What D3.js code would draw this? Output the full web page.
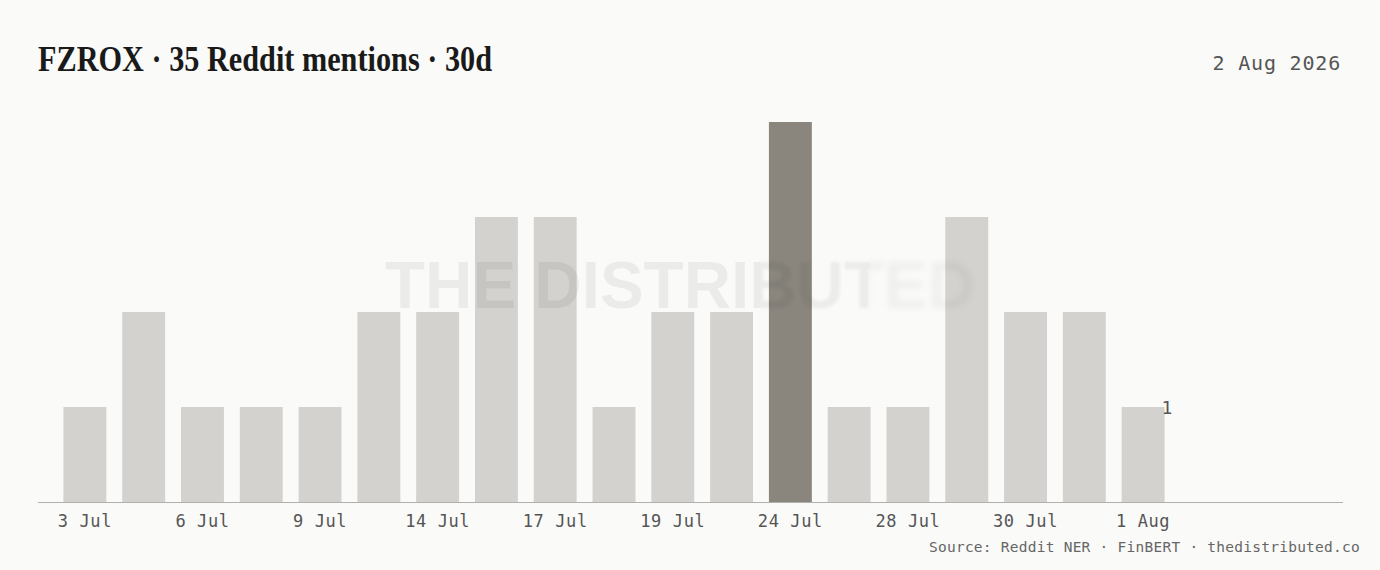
<!DOCTYPE html>
<html><head><meta charset="utf-8">
<script src="https://cdn.jsdelivr.net/npm/d3@7"></script>
<style>html,body{margin:0;padding:0;background:#fafaf8;}svg{display:block;}</style>
</head><body>
<svg id="c" width="1380" height="570"></svg>
<script>
const dates = ["3 Jul","5 Jul","6 Jul","8 Jul","9 Jul","12 Jul","14 Jul","16 Jul","17 Jul","18 Jul","19 Jul","22 Jul","24 Jul","26 Jul","28 Jul","29 Jul","30 Jul","31 Jul","1 Aug"];
const mentions = [1,2,1,1,1,2,2,3,3,1,2,2,4,1,1,3,2,2,1];
const tickLabels = ["3 Jul","6 Jul","9 Jul","14 Jul","17 Jul","19 Jul","24 Jul","28 Jul","30 Jul","1 Aug"];
const highlight = "24 Jul";
const titleText = "FZROX · 35 Reddit mentions · 30d";
const dateText = "2 Aug 2026";
const sourceText = "Source: Reddit NER · FinBERT · thedistributed.co";

const svg = d3.select("#c");
svg.append("rect").attr("width",1380).attr("height",570).attr("fill","#fafaf8");

const mono = "'DejaVu Sans Mono','Liberation Mono',monospace";

const x = d3.scaleBand().domain(dates).range([55.5,1172.5]).paddingInner(0.27).paddingOuter(0.135);
const y = d3.scaleLinear().domain([0,4]).range([502,122]);

// bars
svg.append("g").selectAll("rect").data(dates).join("rect")
  .attr("x", d=>x(d)).attr("width", x.bandwidth())
  .attr("y", (d,i)=>y(mentions[i])).attr("height",(d,i)=>y(0)-y(mentions[i]))
  .attr("fill", d=> d===highlight ? "#8a867e" : "#d3d2ce");

// watermark
const defs = svg.append("defs");
defs.append("filter").attr("id","blur1").attr("x","-10%").attr("y","-30%").attr("width","120%").attr("height","160%")
  .append("feGaussianBlur").attr("stdDeviation",1.6);
defs.append("filter").attr("id","blur2").attr("x","-10%").attr("y","-30%").attr("width","120%").attr("height","160%")
  .append("feGaussianBlur").attr("stdDeviation",3);
defs.append("clipPath").attr("id","clipL").append("rect").attr("x",0).attr("y",200).attr("width",760).attr("height",160);
defs.append("clipPath").attr("id","clipM").append("rect").attr("x",760).attr("y",200).attr("width",110).attr("height",160);
defs.append("clipPath").attr("id","clipR").append("rect").attr("x",870).attr("y",200).attr("width",300).attr("height",160);
const wm = (g,op)=> g.append("text").attr("x",680).attr("y",308).attr("text-anchor","middle")
  .attr("font-family","'Liberation Sans',Arial,sans-serif").attr("font-weight","bold").attr("font-size",67)
  .attr("textLength",590).attr("lengthAdjust","spacingAndGlyphs")
  .attr("fill","#000").attr("fill-opacity",op).text("THE DISTRIBUTED");
wm(svg.append("g").attr("clip-path","url(#clipL)"),0.06);
wm(svg.append("g").attr("clip-path","url(#clipM)").append("g").attr("filter","url(#blur1)"),0.055);
wm(svg.append("g").attr("clip-path","url(#clipR)").append("g").attr("filter","url(#blur2)"),0.045);

// axis
const ax = svg.append("g").attr("transform","translate(0,502)")
  .call(d3.axisBottom(x).tickValues(tickLabels).tickSize(0).tickPadding(13));
ax.select(".domain").remove();
ax.selectAll("text").attr("font-family",mono).attr("font-size",17).attr("letter-spacing",0.6).attr("fill","#555");
svg.append("line").attr("x1",38).attr("x2",1343).attr("y1",502.5).attr("y2",502.5).attr("stroke","#b0afab").attr("stroke-width",1.2);

// last value label
const last = dates[dates.length-1];
svg.append("text").attr("x", x(last)+x.bandwidth()-3).attr("y", y(mentions[mentions.length-1])+7)
  .attr("font-family",mono).attr("font-size",18).attr("fill","#555").text(mentions[mentions.length-1]);

// title
svg.append("text").attr("x",38).attr("y",71).attr("font-family","'Liberation Serif','DejaVu Serif',serif")
  .attr("font-weight","bold").attr("font-size",35).attr("fill","#1a1a1a")
  .attr("textLength",454).attr("lengthAdjust","spacingAndGlyphs").text(titleText);

svg.append("text").attr("x",1341).attr("y",70).attr("text-anchor","end").attr("font-family",mono)
  .attr("font-size",20).attr("letter-spacing",0.8).attr("fill","#555").text(dateText);

svg.append("text").attr("x",1360).attr("y",552).attr("text-anchor","end").attr("font-family",mono)
  .attr("font-size",14.5).attr("letter-spacing",0.25).attr("fill","#666").text(sourceText);
</script>
</body></html>
